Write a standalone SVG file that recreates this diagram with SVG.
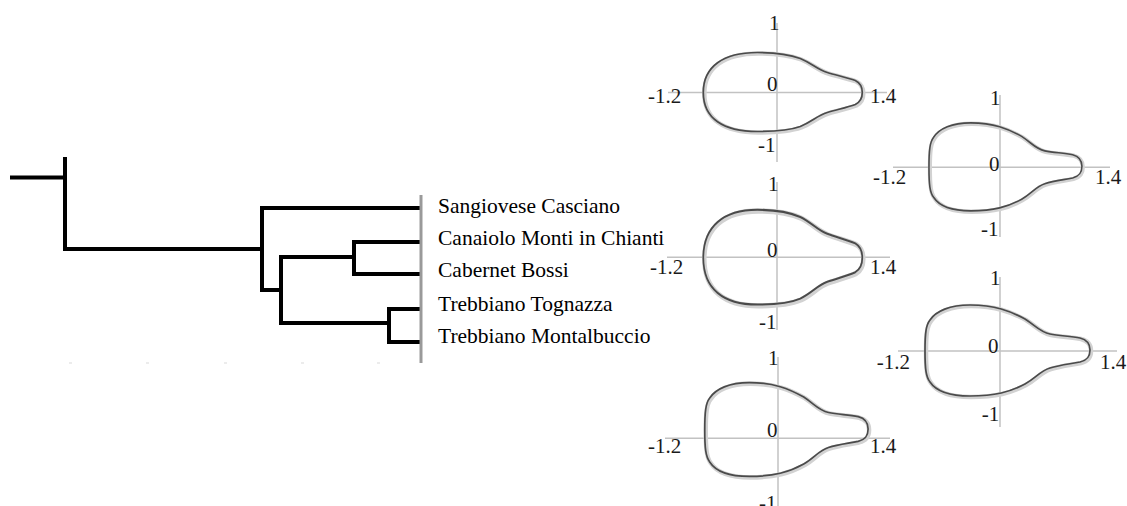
<svg xmlns="http://www.w3.org/2000/svg" width="1127" height="506" viewBox="0 0 1127 506">
<style>
  .br{fill:none;stroke:#000;stroke-width:4;stroke-linejoin:miter;stroke-linecap:square}
  .ax{stroke:#c2c2c2;stroke-width:1.5;fill:none}
  .halo{fill:none;stroke:#d2d2d2;stroke-width:4.5;vector-effect:non-scaling-stroke}
  .out{fill:none;stroke:#4a4a4a;stroke-width:1.7;vector-effect:non-scaling-stroke}
  .lab{font-family:"Liberation Serif","Times New Roman",serif;font-size:21.5px;fill:#000}
  .num{font-family:"Liberation Serif","Times New Roman",serif;font-size:21px;fill:#1a1a1a}
</style>
<defs>
  <path id="pear" d="M -74,0 C -74,-26 -54,-40 -20,-40 C 0,-40 12,-38 23,-34 C 35,-29 40,-23 50,-20 C 60,-17 70,-15 78,-12 C 84,-9 85,-4 85,0 C 85,4 84,9 78,12 C 70,15 60,17 50,20 C 40,23 35,29 23,34 C 12,38 0,39 -20,39 C -54,39 -74,26 -74,0 Z"/>
  <path id="bottle" d="M -75,0 C -75,-18 -74,-26 -70,-31 C -64,-40 -50,-46 -30,-46 C -5,-46 10,-40 25,-32 C 36,-25 40,-19 50,-17 C 60,-15 70,-15 80,-13 C 88,-11 90,-6 90,-1 C 90,5 88,9 80,11 C 70,13 60,14 50,17 C 40,20 36,27 25,33 C 10,41 -5,45 -30,45 C -50,45 -64,40 -70,31 C -74,26 -75,18 -75,0 Z"/>
</defs>
<rect width="1127" height="506" fill="#fff"/>

<g id="dendrogram-connectors">
  <path class="br" d="M12,177.5 H65"/>
  <path class="br" d="M65,159 V249 H262"/>
  <path class="br" d="M420,208 H262 V290 H281"/>
  <path class="br" d="M354,257 H281 V323 H389"/>
  <path class="br" d="M420,242 H354 V274 H420"/>
  <path class="br" d="M420,309 H389 V342 H420"/>
  <line x1="421" y1="195" x2="421" y2="363" stroke="#9a9a9a" stroke-width="3"/>
  <g fill="#ececec">
    <rect x="69" y="362" width="3" height="2"/>
    <rect x="146" y="362" width="3" height="2"/>
    <rect x="224" y="362" width="3" height="2"/>
    <rect x="301" y="362" width="3" height="2"/>
    <rect x="377" y="362" width="3" height="2"/>
  </g>
</g>

<g id="leaf-labels">
  <text class="lab" x="438" y="212.5">Sangiovese Casciano</text>
  <text class="lab" x="438" y="244.5">Canaiolo Monti in Chianti</text>
  <text class="lab" x="438" y="277">Cabernet Bossi</text>
  <text class="lab" x="438" y="310.5">Trebbiano Tognazza</text>
  <text class="lab" x="438" y="342.5">Trebbiano Montalbuccio</text>
</g>

<g id="plot1">
  <line class="ax" x1="668" y1="92.5" x2="887" y2="92.5"/>
  <line class="ax" x1="777" y1="23" x2="777" y2="162"/>
  <g transform="translate(777.3,92.5)">
    <use href="#pear" class="halo" transform="translate(1,1)"/>
    <use href="#pear" class="out"/>
  </g>
  <text class="num" x="769" y="30">1</text>
  <text class="num" x="767" y="91">0</text>
  <text class="num" x="648" y="103">-1.2</text>
  <text class="num" x="870" y="103">1.4</text>
  <text class="num" x="758" y="152">-1</text>
</g>

<g id="plot2">
  <line class="ax" x1="893" y1="167.3" x2="1110" y2="167.3"/>
  <line class="ax" x1="1000" y1="95" x2="1000" y2="237"/>
  <g transform="translate(998.5,167.3) scale(0.927,0.967)">
    <use href="#bottle" class="halo" transform="translate(1,1)"/>
    <use href="#bottle" class="out"/>
  </g>
  <text class="num" x="990" y="105">1</text>
  <text class="num" x="989" y="170.7">0</text>
  <text class="num" x="873" y="184">-1.2</text>
  <text class="num" x="1095" y="184">1.4</text>
  <text class="num" x="981" y="236">-1</text>
</g>

<g id="plot3">
  <line class="ax" x1="667" y1="257.3" x2="890" y2="257.3"/>
  <line class="ax" x1="777" y1="182" x2="777" y2="330"/>
  <g transform="translate(777.3,257.8) scale(1.0,1.2)">
    <use href="#pear" class="halo" transform="translate(1,1)"/>
    <use href="#pear" class="out"/>
  </g>
  <text class="num" x="768" y="190.7">1</text>
  <text class="num" x="767" y="257.3">0</text>
  <text class="num" x="650" y="274">-1.2</text>
  <text class="num" x="870" y="274">1.4</text>
  <text class="num" x="759" y="329">-1</text>
</g>

<g id="plot4">
  <line class="ax" x1="898" y1="351" x2="1117" y2="351"/>
  <line class="ax" x1="1000" y1="277" x2="1000" y2="427"/>
  <g transform="translate(1000,351)">
    <use href="#bottle" class="halo" transform="translate(1,1)"/>
    <use href="#bottle" class="out"/>
  </g>
  <text class="num" x="990" y="285">1</text>
  <text class="num" x="988" y="352.7">0</text>
  <text class="num" x="876.7" y="369">-1.2</text>
  <text class="num" x="1100" y="369">1.4</text>
  <text class="num" x="981.7" y="420.7">-1</text>
</g>

<g id="plot5">
  <line class="ax" x1="665" y1="438.3" x2="890" y2="438.3"/>
  <line class="ax" x1="778" y1="357" x2="778" y2="506"/>
  <g transform="translate(779,430) scale(0.99,1.03)">
    <use href="#bottle" class="halo" transform="translate(1,1)"/>
    <use href="#bottle" class="out"/>
  </g>
  <text class="num" x="768" y="365">1</text>
  <text class="num" x="767" y="436.7">0</text>
  <text class="num" x="648" y="452.7">-1.2</text>
  <text class="num" x="870" y="452.7">1.4</text>
  <text class="num" x="759" y="510">-1</text>
</g>
</svg>
